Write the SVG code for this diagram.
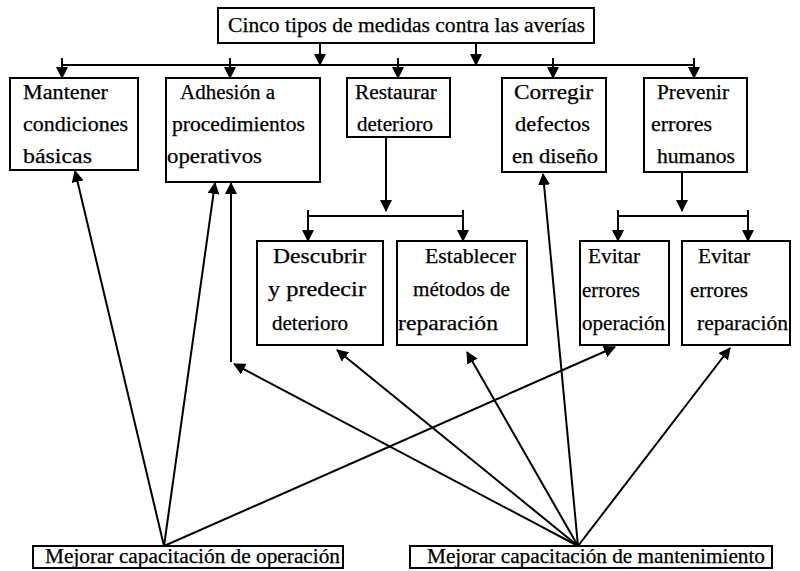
<svg xmlns="http://www.w3.org/2000/svg" width="800" height="571" viewBox="0 0 800 571">
  <style>
    .box { fill: #ffffff; stroke: #000000; stroke-width: 2; }
    .lbl { font-family: "Liberation Serif", "Times New Roman", serif; font-size: 20px; fill: #000000; stroke: #000000; stroke-width: 0.25; }
    .ln { fill: none; stroke: #000000; stroke-width: 2; }
    .arr { fill: none; stroke: #000000; stroke-width: 2; marker-end: url(#ah); }
  </style>
  <defs>
    <marker id="ah" viewBox="0 0 12 12" refX="11" refY="6" markerWidth="12" markerHeight="12" markerUnits="userSpaceOnUse" orient="auto">
      <path d="M0,0 L12,6 L0,12 z" fill="#000000"/>
    </marker>
  </defs>
  <rect width="800" height="571" fill="#ffffff"/>

  <!-- connectors -->
  <g id="connectors">
    <!-- root to first level -->
    <line class="arr" x1="320" y1="43" x2="320" y2="65"/>
    <line class="arr" x1="476" y1="43" x2="476" y2="65"/>
    <line class="ln" x1="62" y1="65" x2="695" y2="65"/>
    <line class="arr" x1="62" y1="58" x2="62" y2="78"/>
    <line class="arr" x1="230" y1="58" x2="230" y2="78"/>
    <line class="arr" x1="398" y1="58" x2="398" y2="78"/>
    <line class="arr" x1="553" y1="58" x2="553" y2="78"/>
    <line class="arr" x1="694" y1="58" x2="694" y2="78"/>

    <!-- restaurar deterioro branch -->
    <line class="arr" x1="386" y1="138" x2="386" y2="211"/>
    <line class="ln" x1="308" y1="216" x2="463" y2="216"/>
    <line class="arr" x1="308" y1="210" x2="308" y2="241"/>
    <line class="arr" x1="463" y1="210" x2="463" y2="241"/>

    <!-- prevenir errores humanos branch -->
    <line class="arr" x1="682" y1="173" x2="682" y2="211"/>
    <line class="ln" x1="618" y1="216" x2="748" y2="216"/>
    <line class="arr" x1="618" y1="210" x2="618" y2="241"/>
    <line class="arr" x1="748" y1="210" x2="748" y2="241"/>

    <!-- operation training -->
    <line class="arr" x1="164" y1="546" x2="75" y2="171"/>
    <line class="arr" x1="164" y1="546" x2="215" y2="183"/>
    <line class="arr" x1="164" y1="546" x2="615" y2="347"/>

    <!-- maintenance training -->
    <line class="arr" x1="578" y1="546" x2="234" y2="364"/>
    <line class="arr" x1="231" y1="362" x2="231" y2="183"/>
    <line class="arr" x1="578" y1="546" x2="337" y2="350"/>
    <line class="arr" x1="578" y1="546" x2="467" y2="352"/>
    <line class="arr" x1="578" y1="546" x2="543" y2="174"/>
    <line class="arr" x1="578" y1="546" x2="730" y2="348"/>
  </g>

  <g id="n-root">
    <rect class="box" x="218" y="8" width="376" height="35"/>
    <text class="lbl" x="228" y="32" textLength="357" lengthAdjust="spacingAndGlyphs">Cinco tipos de medidas contra las averías</text>
  </g>

  <g id="n-mantener">
    <rect class="box" x="10" y="78" width="128" height="92"/>
    <text class="lbl" x="23" y="99" textLength="85" lengthAdjust="spacingAndGlyphs">Mantener</text>
    <text class="lbl" x="23" y="131" textLength="105" lengthAdjust="spacingAndGlyphs">condiciones</text>
    <text class="lbl" x="23" y="163" textLength="69" lengthAdjust="spacingAndGlyphs">básicas</text>
  </g>

  <g id="n-adhesion">
    <rect class="box" x="166" y="78" width="154" height="104"/>
    <text class="lbl" x="180" y="99" textLength="95" lengthAdjust="spacingAndGlyphs">Adhesión a</text>
    <text class="lbl" x="172" y="131" textLength="133" lengthAdjust="spacingAndGlyphs">procedimientos</text>
    <text class="lbl" x="167" y="163" textLength="95" lengthAdjust="spacingAndGlyphs">operativos</text>
  </g>

  <g id="n-restaurar">
    <rect class="box" x="347" y="78" width="103" height="59"/>
    <text class="lbl" x="355" y="99" textLength="82" lengthAdjust="spacingAndGlyphs">Restaurar</text>
    <text class="lbl" x="357" y="131" textLength="76" lengthAdjust="spacingAndGlyphs">deterioro</text>
  </g>

  <g id="n-corregir">
    <rect class="box" x="502" y="78" width="104" height="94"/>
    <text class="lbl" x="514" y="99" textLength="79" lengthAdjust="spacingAndGlyphs">Corregir</text>
    <text class="lbl" x="515" y="131" textLength="75" lengthAdjust="spacingAndGlyphs">defectos</text>
    <text class="lbl" x="512" y="163" textLength="86" lengthAdjust="spacingAndGlyphs">en diseño</text>
  </g>

  <g id="n-prevenir">
    <rect class="box" x="644" y="78" width="103" height="94"/>
    <text class="lbl" x="657" y="99" textLength="72" lengthAdjust="spacingAndGlyphs">Prevenir</text>
    <text class="lbl" x="651" y="131" textLength="61" lengthAdjust="spacingAndGlyphs">errores</text>
    <text class="lbl" x="657" y="163" textLength="78" lengthAdjust="spacingAndGlyphs">humanos</text>
  </g>

  <g id="n-descubrir">
    <rect class="box" x="257" y="241" width="126" height="104"/>
    <text class="lbl" x="273" y="263" textLength="93" lengthAdjust="spacingAndGlyphs">Descubrir</text>
    <text class="lbl" x="268" y="296" textLength="98" lengthAdjust="spacingAndGlyphs">y predecir</text>
    <text class="lbl" x="272" y="330" textLength="76" lengthAdjust="spacingAndGlyphs">deterioro</text>
  </g>

  <g id="n-establecer">
    <rect class="box" x="397" y="241" width="130" height="104"/>
    <text class="lbl" x="425" y="263" textLength="91" lengthAdjust="spacingAndGlyphs">Establecer</text>
    <text class="lbl" x="413" y="296" textLength="97" lengthAdjust="spacingAndGlyphs">métodos de</text>
    <text class="lbl" x="398" y="330" textLength="100" lengthAdjust="spacingAndGlyphs">reparación</text>
  </g>

  <g id="n-evitar-op">
    <rect class="box" x="580" y="241" width="89" height="104"/>
    <text class="lbl" x="588" y="263" textLength="52" lengthAdjust="spacingAndGlyphs">Evitar</text>
    <text class="lbl" x="582" y="297" textLength="58" lengthAdjust="spacingAndGlyphs">errores</text>
    <text class="lbl" x="582" y="330" textLength="83" lengthAdjust="spacingAndGlyphs">operación</text>
  </g>

  <g id="n-evitar-rep">
    <rect class="box" x="682" y="241" width="108" height="104"/>
    <text class="lbl" x="698" y="263" textLength="52" lengthAdjust="spacingAndGlyphs">Evitar</text>
    <text class="lbl" x="690" y="297" textLength="58" lengthAdjust="spacingAndGlyphs">errores</text>
    <text class="lbl" x="697" y="330" textLength="91" lengthAdjust="spacingAndGlyphs">reparación</text>
  </g>

  <g id="n-cap-op">
    <rect class="box" x="33" y="546" width="310" height="22"/>
    <text class="lbl" x="45" y="563" textLength="295" lengthAdjust="spacingAndGlyphs">Mejorar capacitación de operación</text>
  </g>

  <g id="n-cap-mant">
    <rect class="box" x="410" y="546" width="362" height="22"/>
    <text class="lbl" x="427" y="563" textLength="338" lengthAdjust="spacingAndGlyphs">Mejorar capacitación de mantenimiento</text>
  </g>
</svg>
